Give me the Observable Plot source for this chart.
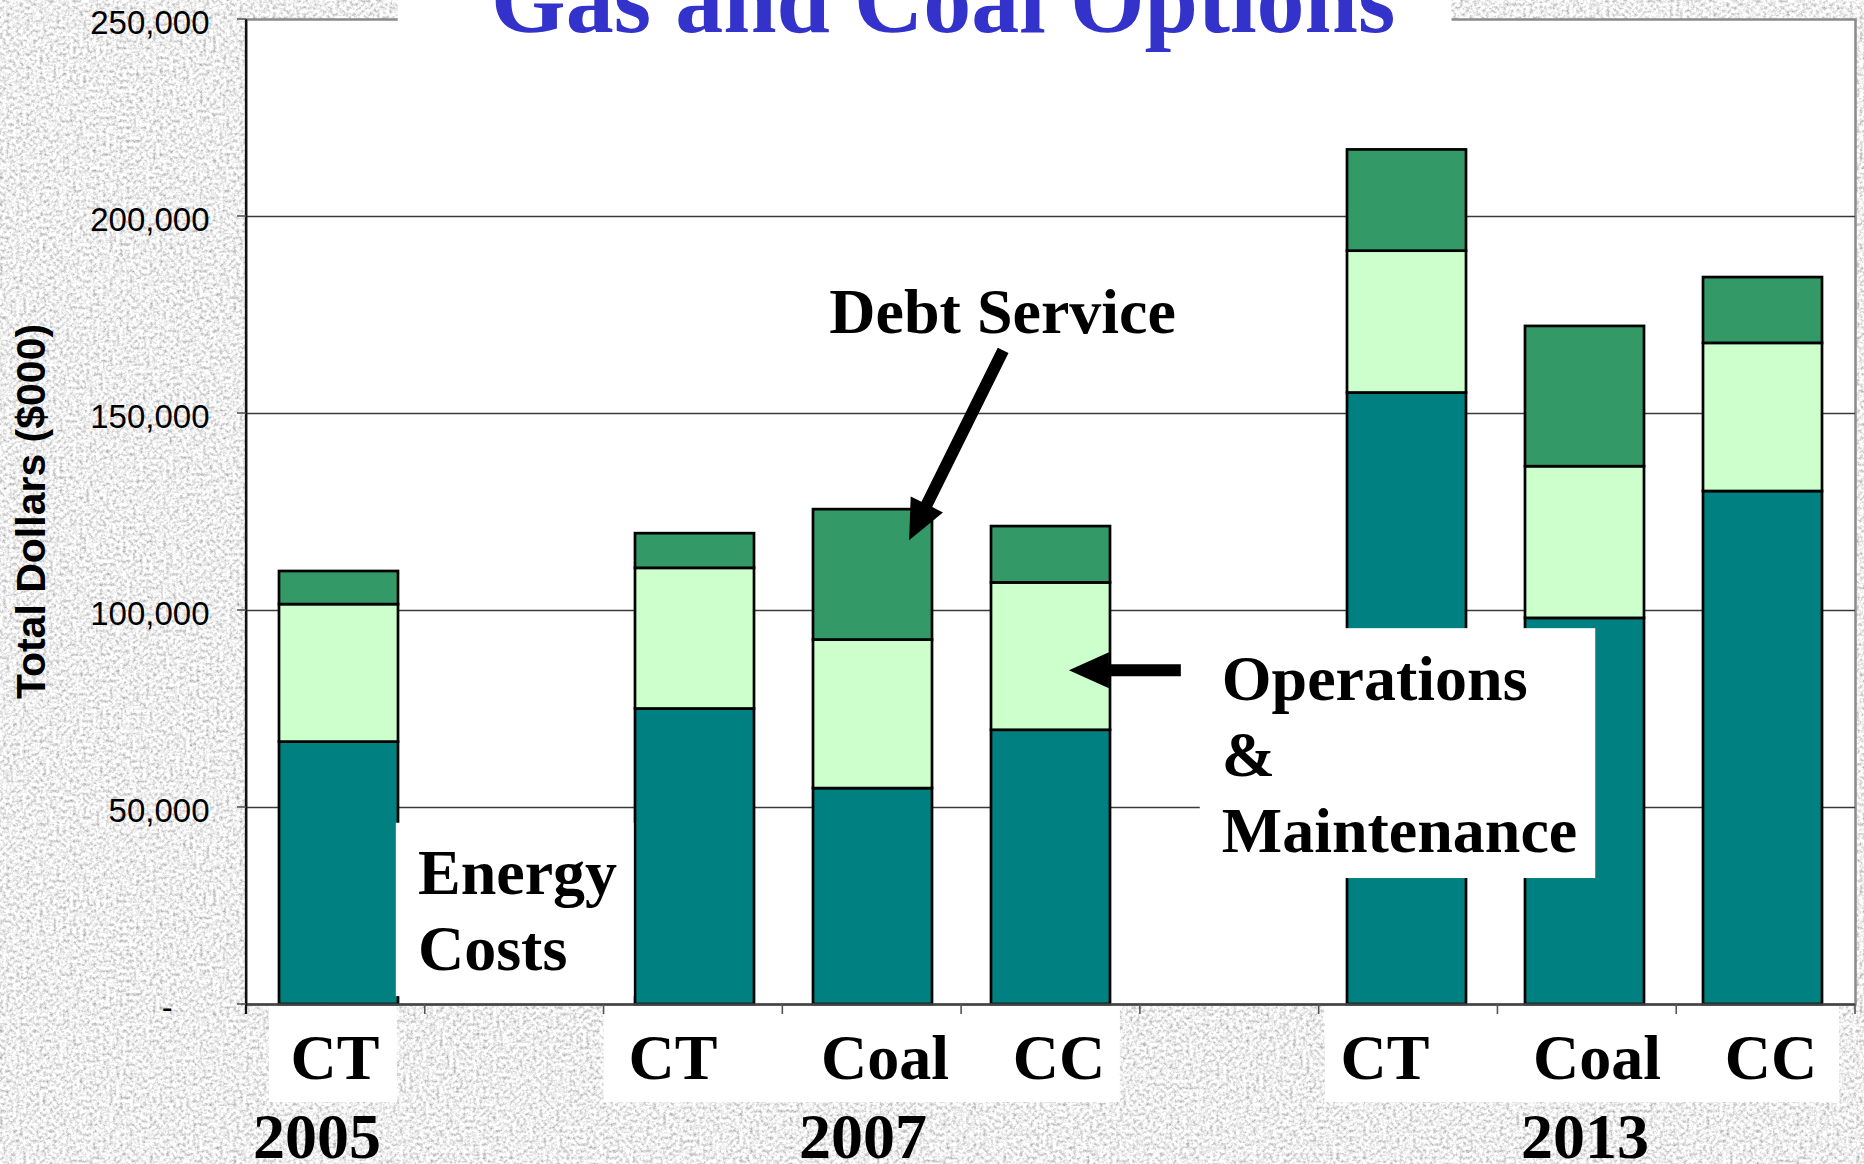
<!DOCTYPE html>
<html><head><meta charset="utf-8">
<script src="https://cdn.jsdelivr.net/npm/d3@7"></script>
<script src="https://cdn.jsdelivr.net/npm/@observablehq/plot@0.6"></script>
<style>
html,body{margin:0;padding:0;width:1864px;height:1164px;overflow:hidden;background:#d9d9d9;}
#bg{position:absolute;left:0;top:0;}
#chart{position:absolute;left:0;top:0;}
</style></head><body>
<svg id="bg" width="1864" height="1164">
  <filter id="speckle">
    <feTurbulence type="fractalNoise" baseFrequency="0.3" numOctaves="4" seed="11"/>
    <feColorMatrix type="matrix" values="1.2 0 0 0 0.26  1.2 0 0 0 0.26  1.2 0 0 0 0.26  0 0 0 0 1"/>
  </filter>
  <rect width="1864" height="1164" filter="url(#speckle)"/>
</svg>
<div id="chart"></div>
<script>
// ---- data ----
const slots = ["2005 CT", "gap A", "2007 CT", "2007 Coal", "2007 CC", "gap B", "2013 CT", "2013 Coal", "2013 CC"];
const slotLabels = ["CT", "", "CT", "Coal", "CC", "", "CT", "Coal", "CC"];
const barSlots = ["2005 CT", "2007 CT", "2007 Coal", "2007 CC", "2013 CT", "2013 Coal", "2013 CC"];
const series = ["Energy Costs", "Operations & Maintenance", "Debt Service"];
const energyCosts = [66600, 75000, 54800, 69600, 155200, 98000, 130200];
const operationsMaintenance = [34900, 35700, 37700, 37400, 36000, 38500, 37600];
const debtService = [8400, 8800, 33100, 14300, 25700, 35600, 16700];
const years = ["2005", "2007", "2013"];
const yearSlots = ["2005 CT", "2007 Coal", "2013 Coal"];
const yTicks = [0, 50000, 100000, 150000, 200000, 250000];
const gridValues = [50000, 100000, 150000, 200000];
const titleText = "Gas and Coal Options";
const yTitle = "Total Dollars ($000)";

const rows = [];
barSlots.forEach((s, i) => {
  rows.push({slot: s, series: series[0], value: energyCosts[i]});
  rows.push({slot: s, series: series[1], value: operationsMaintenance[i]});
  rows.push({slot: s, series: series[2], value: debtService[i]});
});
const catRows = slots.map((s, i) => ({slot: s, label: slotLabels[i]})).filter(d => d.label);
const yearRows = years.map((y, i) => ({slot: yearSlots[i], year: y}));

const serif = "'Liberation Serif','Times New Roman',Times,serif";
const sans = "'Liberation Sans',Arial,Helvetica,sans-serif";

function helpers(scales, dims) {
  const {width, height, marginLeft, marginRight, marginTop, marginBottom} = dims;
  const step = (width - marginLeft - marginRight) / slots.length;
  return {
    X: u => marginLeft + u * step,
    Y: v => scales.y(v),
    y0: height - marginBottom,
    yTop: marginTop
  };
}

function boxes(index, scales, values, dims) {
  const {X, Y, y0} = helpers(scales, dims);
  const g = d3.create("svg:g").attr("fill", "white");
  const rect = (x1, y1, x2, y2) => g.append("rect")
    .attr("x", x1).attr("y", y1).attr("width", x2 - x1).attr("height", y2 - y1);
  rect(X(0.849), 0, X(6.743), Y(248000));            // title box
  rect(X(5.335), Y(95390), X(7.547), Y(31970));       // O&M box
  rect(X(0.838), Y(46000), X(2.168), Y(2000));        // energy box
  [[0.128, 0.844], [2.0, 4.888], [6.034, 8.911]].forEach(([a, b]) => rect(X(a), y0 + 2, X(b), y0 + 98));
  return g.node();
}

function arrowPath(x1, y1, x2, y2, shaft = 12, headLen = 40, headW = 36) {
  const dx = x2 - x1, dy = y2 - y1, L = Math.hypot(dx, dy);
  const ux = dx / L, uy = dy / L, nx = -uy, ny = ux;
  const bx = x2 - ux * headLen, by = y2 - uy * headLen, s = shaft / 2, h = headW / 2;
  const pts = [[x1 + nx * s, y1 + ny * s], [bx + nx * s, by + ny * s], [bx + nx * h, by + ny * h], [x2, y2],
               [bx - nx * h, by - ny * h], [bx - nx * s, by - ny * s], [x1 - nx * s, y1 - ny * s]];
  return "M" + pts.map(p => p.join(",")).join("L") + "Z";
}

function overlays(index, scales, values, dims) {
  const {X, Y, y0, yTop} = helpers(scales, dims);
  const g = d3.create("svg:g");
  // left axis line
  g.append("line").attr("x1", X(0)).attr("x2", X(0)).attr("y1", yTop).attr("y2", y0 + 10)
    .attr("stroke", "#111").attr("stroke-width", 2.3);
  // y ticks
  yTicks.forEach(v => g.append("line").attr("x1", X(0) - 9).attr("x2", X(0)).attr("y1", Y(v)).attr("y2", Y(v))
    .attr("stroke", "#555").attr("stroke-width", 1.6));
  // x slot boundary ticks
  d3.range(1, slots.length + 1).forEach(u => g.append("line").attr("x1", X(u)).attr("x2", X(u))
    .attr("y1", y0).attr("y2", y0 + 10).attr("stroke", "#555").attr("stroke-width", 1.6));
  // arrows
  g.append("path").attr("d", arrowPath(X(4.235), Y(165900), X(3.709), Y(117700))).attr("fill", "black");
  g.append("path").attr("d", arrowPath(X(5.229), Y(84700), X(4.603), Y(84700))).attr("fill", "black");
  // texts
  const txt = (x, y, s, size, anchor, fill, family = serif) => g.append("text")
    .attr("x", x).attr("y", y).attr("text-anchor", anchor).attr("font-family", family)
    .attr("font-weight", "bold").attr("font-size", size).attr("fill", fill).text(s);
  txt(X(3.9), Y(246800), titleText, 96, "middle", "#3333CC");
  txt(X(3.263), Y(170200), series[2], 64, "start", "black");
  txt(X(5.458), Y(77100), "Operations", 64, "start", "black");
  txt(X(5.458), Y(57800), "&", 64, "start", "black");
  txt(X(5.458), Y(38600), "Maintenance", 64, "start", "black");
  txt(X(0.962), Y(27900), "Energy", 64, "start", "black");
  txt(X(0.962), Y(8600), "Costs", 64, "start", "black");
  // y axis title
  g.append("text").attr("transform", `translate(${X(0) - 201},${(yTop + y0) / 2}) rotate(-90)`)
    .attr("text-anchor", "middle").attr("font-family", sans).attr("font-weight", "bold")
    .attr("font-size", 41).attr("fill", "black").text(yTitle);
  return g.node();
}

const fmt = d => d === 0 ? "-\u00a0\u00a0\u00a0\u00a0" : d3.format(",")(d);
const catStyle = {x: "slot", text: "label", frameAnchor: "bottom", lineAnchor: "bottom", dy: 74,
  fontSize: 64, fontWeight: "bold", fontFamily: serif, fill: "black"};
const yearStyle = {x: "slot", text: "year", frameAnchor: "bottom", lineAnchor: "bottom", dy: 153,
  fontSize: 64, fontWeight: "bold", fontFamily: serif, fill: "black"};

const chart = Plot.plot({
  width: 1864,
  height: 1164,
  marginLeft: 246,
  marginRight: 9,
  marginTop: 19,
  marginBottom: 160,
  style: {background: "transparent", overflow: "visible"},
  x: {domain: slots, paddingInner: 0.33, paddingOuter: 0.165, axis: null},
  y: {domain: [0, 250000], axis: null},
  color: {domain: series, range: ["#008080", "#CCFFCC", "#339966"]},
  marks: [
    Plot.frame({fill: "white", stroke: "#8a8a8a", strokeWidth: 2.5}),
    Plot.ruleY(gridValues, {stroke: "#3a3a3a", strokeWidth: 1.3}),
    Plot.barY(rows, {x: "slot", y: "value", fill: "series", z: "series", order: series,
      stroke: "black", strokeWidth: 2.7}),
    boxes,
    Plot.ruleY([0], {stroke: "#444", strokeWidth: 2.7}),
    overlays,
    Plot.axisY({ticks: yTicks, tickSize: 0, tickPadding: 37, dy: 4, fontSize: 33, fontFamily: sans,
      tickFormat: fmt, fill: "black", label: null}),
    Plot.text(catRows.filter(d => d.slot === "2005 CT"), {...catStyle, dx: -4}),
    Plot.text(catRows.filter(d => d.label === "CT" && d.slot !== "2005 CT"), {...catStyle, dx: -22}),
    Plot.text(catRows.filter(d => d.label === "Coal"), {...catStyle, dx: 12}),
    Plot.text(catRows.filter(d => d.label === "CC"), {...catStyle, dx: 8}),
    Plot.text(yearRows.filter(d => d.year === "2005"), {...yearStyle, dx: -22}),
    Plot.text(yearRows.filter(d => d.year === "2007"), {...yearStyle, dx: -10}),
    Plot.text(yearRows.filter(d => d.year === "2013"), {...yearStyle, dx: 0})
  ]
});
document.getElementById("chart").appendChild(chart);
</script>
</body></html>
